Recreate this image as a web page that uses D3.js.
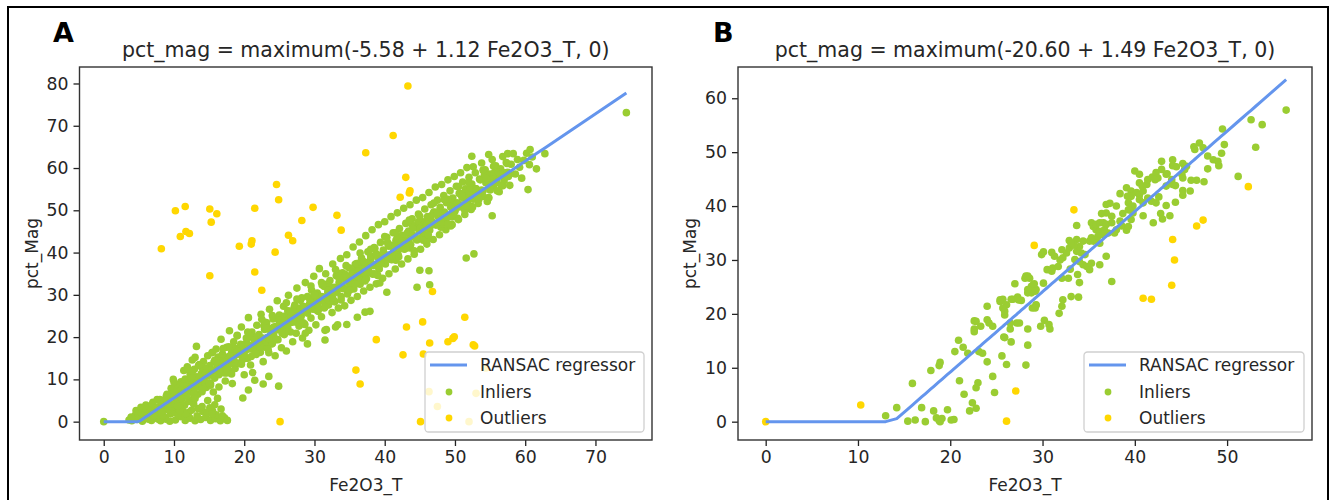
<!DOCTYPE html>
<html><head><meta charset="utf-8">
<script src="https://cdn.jsdelivr.net/npm/d3@7"></script>
<style>
body{margin:0;background:#fff}
svg{display:block}
text{font-family:"DejaVu Sans",sans-serif;fill:#262626}
</style>
</head><body>
<svg id="chart" width="1335" height="500"></svg>
<script>
// ---------------- data ----------------
const panelLabels = ["A", "B"];
const titles = [
  "pct_mag = maximum(-5.58 + 1.12 Fe2O3_T, 0)",
  "pct_mag = maximum(-20.60 + 1.49 Fe2O3_T, 0)"
];
const xLabel = "Fe2O3_T";
const yLabel = "pct_Mag";
const legendLabels = ["RANSAC regressor", "Inliers", "Outliers"];
const xTicksA = [0, 10, 20, 30, 40, 50, 60, 70];
const yTicksA = [0, 10, 20, 30, 40, 50, 60, 70, 80];
const xTicksB = [0, 10, 20, 30, 40, 50];
const yTicksB = [0, 10, 20, 30, 40, 50, 60];
const interceptA = -5.58, slopeA = 1.12;
const interceptB = -20.60, slopeB = 1.49;

const inliersA = [
[0,0],[3.6,0.4],[4.0,0.2],[4.3,0.9],[4.5,1.5],[4.8,0.5],[5.2,2.3],[5.5,0.1],[5.9,1.2],[6.0,3.9],[6.2,0.8],[6.5,2.8],[6.8,0.3],[7.0,4.6],[7.2,1.9],[7.5,1.0],[7.8,3.5],[8.1,0.2],[8.8,0.6],[9.4,0.1],[10.2,0.4],[10.9,1.2],[11.6,0.3],[12.3,0.8],[13.0,0.2],[13.8,0.5],[14.5,1.0],[15.2,0.3],[15.9,0.7],[16.6,0.2],[17.2,0.9],
[15.5,2.5],[15.8,4.0],[16.2,5.5],[15.6,7.0],[16.4,8.2],[15.1,3.3],[14.8,5.0],[16.7,3.0],[12.1,2.2],[13.4,3.1],[11.2,2.7],[9.7,2.4],[10.5,3.3],[14.1,2.4],[12.8,4.2],
[3.9,1.1],[4.6,2.6],[5.3,3.4],[5.6,0.9],[6.4,1.9],[6.7,3.6],[7.3,2.7],[7.7,0.6],[8.3,2.9],[8.7,1.0],[9.0,3.2],[9.5,1.8],[10.1,2.2],[10.6,1.5],[11.1,3.8],[11.7,1.9],[12.5,2.7],[13.3,1.4],[14.0,3.6],[14.7,2.2],[16.0,1.6],[16.9,1.4],[17.6,0.3],[15.4,1.8],
[5.1,0.9],[5.4,2.1],[5.8,1.6],[6.1,3.0],[6.3,0.6],[6.6,2.4],[6.9,4.1],[7.1,1.3],[7.4,3.3],[7.6,5.2],[7.9,2.2],[8.2,4.6],[8.4,1.4],[8.6,3.6],[8.9,6.0],[9.1,2.8],[9.3,5.1],[9.6,4.0],[9.8,7.3],[10.0,3.1],
[10.2,5.6],[10.3,8.2],[10.5,4.4],[10.7,6.8],[10.8,2.6],[11.0,9.4],[11.1,5.3],[11.3,7.5],[11.5,3.9],[11.6,10.1],[11.8,6.6],[12.0,8.6],[12.1,4.8],[12.3,11.3],[12.4,7.1],[12.6,9.5],[12.8,5.6],[12.9,12.4],[13.1,8.3],[13.2,10.6],[13.4,6.5],[13.6,13.5],[13.7,9.2],[13.9,11.4],[14.0,7.1],[14.2,14.2],[14.3,10.2],[14.5,12.5],[14.6,8.1],[14.8,15.6],[14.9,11.0],[15.1,13.3],[15.2,9.0],[15.4,16.3],[15.5,12.0],[15.7,14.1],[15.8,10.3],[16.0,17.2],[16.1,12.8],[16.3,15.3],
[11.9,13.0],[13.0,15.2],[13.2,17.8],[12.6,14.6],[9.9,10.0],[11.4,12.1],
[16.4,11.1],[16.6,13.9],[16.7,19.5],[16.9,16.0],[17.0,12.4],[17.2,14.8],[17.3,9.6],[17.5,17.6],[17.6,13.1],[17.8,15.4],[17.9,21.5],[18.1,11.9],[18.2,16.3],[18.4,14.0],[18.5,18.9],[18.7,12.6],[18.8,15.9],[19.0,20.4],[19.1,17.3],[19.3,13.8],[19.4,16.6],[19.6,22.4],[19.7,14.5],[19.9,18.2],[20.0,11.1],[20.2,16.9],[20.3,19.8],[20.5,15.0],[20.6,24.6],[20.8,18.0],[20.9,13.4],[21.1,21.2],[21.2,17.1],[21.4,19.4],[21.5,9.8],[21.7,15.9],[21.8,22.8],[22.0,18.6],[22.1,20.6],[22.3,16.4],
[19.8,5.6],[20.6,7.5],[18.3,9.0],[22.7,8.9],[23.5,10.7],[24.9,8.4],[21.2,11.6],
[22.4,25.4],[22.6,19.5],[22.7,14.2],[22.9,21.8],[23.0,17.6],[23.2,23.4],[23.3,19.9],[23.5,16.3],[23.6,26.6],[23.8,21.0],[23.9,18.4],[24.1,24.3],[24.2,20.3],[24.4,15.6],[24.5,22.5],[24.7,28.6],[24.8,19.4],[25.0,25.2],[25.1,21.8],[25.3,17.5],[25.4,23.6],[25.6,27.3],[25.7,20.6],[25.9,24.4],[26.0,16.7],[26.2,22.3],[26.3,29.9],[26.5,25.5],[26.6,21.2],[26.8,23.8],[26.9,18.9],[27.1,27.0],[27.2,24.6],[27.4,20.9],[27.5,31.6],[27.7,26.0],[27.8,22.6],[28.0,28.7],[28.1,24.9],[28.3,19.8],
[28.4,27.3],[28.6,23.1],[28.7,32.9],[28.9,25.8],[29.0,29.6],[29.2,21.6],[29.3,27.8],[29.5,24.5],[29.6,31.1],[29.8,26.6],[29.9,34.4],[30.1,28.3],[30.2,22.9],[30.4,30.4],[30.5,26.1],[30.7,36.2],[30.8,28.9],[31.0,24.8],[31.1,32.3],[31.3,29.5],[31.4,26.9],[31.6,35.0],[31.7,21.8],[31.9,30.7],[32.0,27.6],[32.2,33.4],[32.3,29.9],[32.5,25.8],[32.6,37.3],[32.8,31.8],[32.9,28.4],[33.1,34.5],[33.2,30.6],[33.4,26.9],[33.5,32.9],[33.7,38.6],[33.8,29.6],[34.0,35.2],[34.1,31.5],[34.3,27.4],
[31.5,19.3],[33.0,22.4],[34.6,23.0],[29.0,18.4],[36.1,24.7],[37.2,25.9],
[34.4,33.6],[34.6,39.5],[34.7,30.2],[34.9,36.4],[35.0,32.6],[35.2,28.7],[35.3,34.8],[35.5,41.3],[35.6,31.4],[35.8,37.2],[35.9,33.7],[36.1,29.6],[36.2,35.9],[36.4,42.5],[36.5,32.5],[36.7,38.7],[36.8,34.6],[37.0,30.9],[37.1,36.9],[37.3,44.0],[37.4,33.8],[37.6,40.2],[37.7,35.7],[37.9,31.8],[38.0,38.4],[38.2,45.4],[38.3,34.9],[38.5,41.2],[38.6,37.0],[38.8,32.6],[38.9,39.5],[39.1,46.6],[39.2,36.2],[39.4,42.4],[39.5,38.3],[39.7,33.9],[39.8,40.6],[40.0,47.3],[40.1,37.3],[40.3,43.6],
[40.4,39.4],[40.6,35.0],[40.7,41.8],[40.9,48.5],[41.0,38.4],[41.2,44.7],[41.3,40.6],[41.5,36.1],[41.6,42.9],[41.8,49.4],[41.9,39.6],[42.1,45.7],[42.2,41.7],[42.4,37.3],[42.5,44.0],[42.7,50.5],[42.8,40.8],[43.0,46.9],[43.1,42.8],[43.3,38.5],[43.4,45.1],[43.6,51.3],[43.7,41.9],[43.9,48.0],[44.0,44.0],[44.2,39.6],[44.3,46.2],[44.5,52.4],[44.6,43.0],[44.8,49.1],[44.9,45.1],[45.1,40.8],[45.2,47.4],[45.4,53.0],[45.5,44.1],[45.7,50.3],[45.8,46.2],[46.0,42.0],[46.1,48.5],[46.3,54.2],
[46.4,45.3],[46.6,51.3],[46.7,47.4],[46.9,43.1],[47.0,49.6],[47.2,55.5],[47.3,46.5],[47.5,52.4],[47.6,48.5],[47.8,44.2],[47.9,50.7],[48.1,56.1],[48.2,47.6],[48.4,53.5],[48.5,49.6],[48.7,45.4],[48.8,51.8],[49.0,57.2],[49.1,48.7],[49.3,54.6],[49.4,50.7],[49.6,46.6],[49.7,52.9],[49.9,58.0],[50.0,49.8],[50.2,55.7],[50.3,51.8],[50.5,47.8],[50.6,54.0],[50.8,58.9],[50.9,50.9],[51.1,56.7],[51.2,52.9],[51.4,49.0],[51.5,55.1],[51.7,60.1],[51.8,52.0],[52.0,57.8],[52.1,54.0],[52.3,50.2],
[52.4,56.2],[52.6,60.3],[52.7,53.1],[52.9,58.9],[53.0,55.1],[53.3,51.6],[53.5,57.4],[53.8,61.2],[54.0,54.6],[54.3,59.6],[54.5,56.5],[54.8,52.9],[55.0,58.6],[55.3,62.0],[55.5,55.8],[55.8,60.5],[56.0,57.7],[56.3,54.4],[56.5,59.8],[56.8,62.7],[57.0,57.0],[57.3,61.3],[57.5,59.0],[57.8,55.9],[58.0,60.9],[58.3,63.4],[58.6,58.6],[58.9,62.0],[59.2,60.2],[59.5,57.6],[59.8,61.8],[60.2,63.5],[60.6,60.8],[61.0,62.6],
[74.4,73.1],[62.8,63.4],[60.7,64.4],[61.6,59.8],[60.4,54.9],[54.8,63.2],[52.4,62.8],[55.3,48.7],[51.6,38.7],[52.7,39.7],[45.0,35.8],[46.3,35.7],[44.6,31.8],[46.4,32.4],[40.3,30.6],[39.3,32.8],[37.9,26.1],[33.3,22.9],[31.5,21.6],[28.7,20.9]
];
const coreA = [
[8.0,5.2],[8.4,1.6],[8.8,4.7],[9.2,3.8],[9.6,7.9],[10.0,4.0],[10.4,7.2],[10.8,3.7],[11.2,7.0],[11.6,9.6],[12.0,7.4],[12.4,10.1],[12.8,6.6],[13.2,9.6],[13.6,8.8],[14.0,12.8],[14.4,9.0],[14.8,12.1],[15.2,8.6],[15.6,11.9],
[16.0,14.5],[16.4,12.3],[16.8,15.0],[17.2,11.5],[17.6,14.5],[18.0,13.7],[18.4,17.7],[18.8,13.9],[19.2,17.0],[19.6,13.6],[20.0,16.8],[20.4,19.5],[20.8,17.2],[21.2,20.0],[21.6,16.4],[22.0,19.5],[22.4,18.6],[22.8,22.7],[23.2,18.8],[23.6,22.0],
[24.0,18.5],[24.4,21.8],[24.8,24.4],[25.2,22.1],[25.6,24.9],[26.0,21.3],[26.4,24.4],[26.8,23.5],[27.2,27.6],[27.6,23.7],[28.0,26.9],[28.4,23.4],[28.8,26.7],[29.2,29.3],[29.6,27.1],[30.0,29.8],[30.4,26.3],[30.8,29.3],[31.2,28.5],[31.6,32.5],
[32.0,28.7],[32.4,31.8],[32.8,28.4],[33.2,31.6],[33.6,34.3],[34.0,32.0],[34.4,34.8],[34.8,31.2],[35.2,34.2],[35.6,33.4],[36.0,37.4],[36.4,33.6],[36.8,36.7],[37.2,33.3],[37.6,36.5],[38.0,39.2],[38.4,36.9],[38.8,39.7],[39.2,36.1],[39.6,39.2],
[40.0,38.3],[40.4,42.4],[40.8,38.5],[41.2,41.7],[41.6,38.2],[42.0,41.5],[42.4,44.1],[42.8,41.9],[43.2,44.6],[43.6,41.1],[44.0,44.1],[44.4,43.3],[44.8,47.3],[45.2,43.4],[45.6,46.6],[46.0,43.1],[46.4,46.4],[46.8,49.0],[47.2,46.8],[47.6,49.5],
[48.0,46.0],[48.4,49.0],[48.8,48.2],[49.2,52.2],[49.6,48.4],[50.0,51.5],[50.4,48.1],[50.8,51.3],[51.2,54.0],[51.6,51.7],[52.0,54.5],[52.4,50.9],[52.8,54.0],[53.2,53.1],[53.6,57.2],[54.0,53.3],[54.4,56.5],[54.8,53.0],[55.2,56.2],[55.6,58.9],
[56.0,56.6],[56.4,59.4],[56.8,55.8],[57.2,58.9],[57.6,58.0]
];
const coreA2 = [
[8.2,2.4],[8.6,5.0],[9.0,4.2],[9.4,6.5],[9.8,3.4],[10.2,6.3],[10.6,8.7],[11.0,6.0],[11.4,8.5],[11.8,6.0],[12.2,8.2],[12.6,11.8],[13.0,5.5],[13.4,8.2],[13.8,10.8],[14.2,10.0],[14.6,12.4],[15.0,9.2],[15.4,12.2],[15.8,14.5],
[16.2,11.9],[16.6,14.3],[17.0,11.9],[17.4,14.0],[17.8,17.7],[18.2,11.3],[18.6,14.1],[19.0,16.6],[19.4,15.9],[19.8,18.2],[20.2,15.0],[20.6,18.0],[21.0,20.3],[21.4,17.7],[21.8,20.1],[22.2,17.7],[22.6,19.8],[23.0,23.5],[23.4,17.1],[23.8,19.9],
[24.2,22.4],[24.6,21.7],[25.0,24.0],[25.4,20.9],[25.8,23.8],[26.2,26.2],[26.6,23.5],[27.0,26.0],[27.4,23.5],[27.8,25.7],[28.2,29.3],[28.6,23.0],[29.0,25.7],[29.4,28.3],[29.8,27.5],[30.2,29.8],[30.6,26.7],[31.0,29.6],[31.4,32.0],[31.8,29.3],
[32.2,31.8],[32.6,29.3],[33.0,31.5],[33.4,35.1],[33.8,28.8],[34.2,31.5],[34.6,34.1],[35.0,33.3],[35.4,35.7],[35.8,32.5],[36.2,35.5],[36.6,37.8],[37.0,35.2],[37.4,37.6],[37.8,35.2],[38.2,37.3],[38.6,41.0],[39.0,34.6],[39.4,37.4],[39.8,39.9],
[40.2,39.1],[40.6,41.5],[41.0,38.3],[41.4,41.3],[41.8,43.6],[42.2,41.0],[42.6,43.4],[43.0,41.0],[43.4,43.1],[43.8,46.8],[44.2,40.4],[44.6,43.2],[45.0,45.7],[45.4,45.0],[45.8,47.3],[46.2,44.2],[46.6,47.1],[47.0,49.5],[47.4,46.8],[47.8,49.3],
[48.2,46.8],[48.6,49.0],[49.0,52.6],[49.4,46.3],[49.8,49.0],[50.2,51.5],[50.6,50.8],[51.0,53.1],[51.4,50.0],[51.8,52.9],[52.2,55.3],[52.6,52.6],[53.0,55.1],[53.4,52.6],[53.8,54.8],[54.2,58.4],[54.6,52.1],[55.0,54.8],[55.4,57.4],[55.8,56.6],
[56.2,59.0],[56.6,55.8],[57.0,58.8],[57.4,61.1],[57.8,58.5]
];
const coreA3 = [
[9.0,6.5],[9.5,4.1],[10.0,9.4],[10.5,3.7],[11.0,7.5],[11.5,7.1],[12.0,12.5],[12.5,10.4],[13.0,8.0],[13.5,13.3],[14.0,7.6],[14.5,11.5],[15.0,11.0],[15.5,16.4],[16.0,14.3],[16.5,11.9],[17.0,17.3],[17.5,11.5],[18.0,15.4],[18.5,14.9],
[19.0,20.3],[19.5,18.3],[20.0,15.8],[20.5,21.2],[21.0,15.4],[21.5,19.3],[22.0,18.9],[22.5,24.2],[23.0,22.2],[23.5,19.7],[24.0,25.1],[24.5,19.4],[25.0,23.2],[25.5,22.8],[26.0,28.1],[26.5,26.1],[27.0,23.7],[27.5,29.0],[28.0,23.3],[28.5,27.1],
[29.0,26.7],[29.5,32.1],[30.0,30.0],[30.5,27.6],[31.0,32.9],[31.5,27.2],[32.0,31.1],[32.5,30.6],[33.0,36.0],[33.5,33.9],[34.0,31.5],[34.5,36.9],[35.0,31.1],[35.5,35.0],[36.0,34.5],[36.5,39.9],[37.0,37.9],[37.5,35.4],[38.0,40.8],[38.5,35.0],
[39.0,38.9],[39.5,38.5],[40.0,43.8],[40.5,41.8],[41.0,39.3],[41.5,44.7],[42.0,39.0],[42.5,42.8],[43.0,42.4],[43.5,47.7],[44.0,45.7],[44.5,43.3],[45.0,48.6],[45.5,42.9],[46.0,46.7],[46.5,46.3],[47.0,51.7],[47.5,49.6],[48.0,47.2],[48.5,52.5],
[49.0,46.8],[49.5,50.7],[50.0,50.2],[50.5,55.6],[51.0,53.5],[51.5,51.1],[52.0,56.5],[52.5,50.7],[53.0,54.6],[53.5,54.1],[54.0,59.5],[54.5,57.5],[55.0,55.0],[55.5,60.4],[56.0,54.6],[56.5,58.5],[57.0,58.1],[57.5,63.4]
];
const outliersA = [
[8.2,40.9],[10.2,49.9],[11.6,50.9],[10.9,43.8],[11.7,45.0],[12.2,44.5],[15.1,50.3],[16.1,49.2],[15.3,47.2],[15.1,34.5],[19.3,41.5],[21.0,42.0],[21.1,42.8],[21.5,50.5],[24.6,56.1],[24.9,52.5],[24.4,40.1],[21.5,35.4],[22.5,31.1],[26.3,44.1],[26.9,42.8],[28.2,47.6],[29.8,50.7],[33.2,48.8],[33.8,45.3],[37.3,63.6],[38.8,19.4],[35.9,12.2],[36.5,8.9],[25.1,0.0],
[43.3,79.4],[41.2,67.7],[43.0,57.8],[42.2,53.1],[43.5,54.1],[43.6,54.6],[46.8,30.8],[51.4,24.7],[45.4,23.6],[43.1,22.4],[46.4,18.6],[49.0,18.9],[49.9,20.1],[49.7,19.7],[52.6,18.2],[52.8,17.9],[42.6,15.8],[45.5,16.0],[45.1,0.0],[46.3,7.1],[47.5,3.6],[53.0,6.7],[52.0,0.0],[54.4,12.7]
];
const inliersB = [
[13.0,1.1],[14.2,2.6],[15.9,7.1],[15.4,0.1],[16.2,0.3],[17.3,0.0],[16.9,2.6],[18.2,2.0],[18.5,0.7],[18.8,0.2],[19.1,0.6],[18.9,0.0],[19.7,2.2],[20.1,0.3],[20.4,0.4],[17.9,9.5],[18.8,10.4],[18.9,11.0],[21.0,7.6],[21.5,5.1],[22.1,2.0],[22.4,3.5],[22.8,2.5],[23.0,7.2],[22.8,6.3],[20.9,15.1],[20.5,13.0],[21.4,13.8],[21.9,12.7],[23.1,13.0],[23.5,12.7],[24.0,11.1],[24.6,8.4],[24.8,5.4],[25.6,12.2],[26.1,10.6],[28.2,10.5],[28.4,14.2],[26.6,14.8],[25.9,15.6],[26.5,17.2],[22.6,18.7],[22.8,18.6],[22.6,17.2],[22.6,16.7],[23.3,17.7],[24.0,18.9],[24.2,18.3],[24.6,17.7],[24.0,21.4],[25.4,22.3],[25.7,22.7],[26.1,21.7],[25.7,21.1],[25.9,19.8],[26.8,22.7],[27.3,23.1],[27.7,22.5],[27.0,25.6],[27.2,18.3],[27.5,18.3],[28.4,17.2],[28.9,21.1],[29.3,21.6],[28.2,27.0],[28.6,26.6],[28.8,25.1],[29.1,25.6],[28.6,24.4],[28.8,23.9],[28.4,23.9],[29.3,24.5],[30.1,25.7],[29.8,17.7],[30.2,18.8],[30.7,18.0],[29.9,31.0],[30.1,31.5],[30.5,28.2],
[25.8,15.7],[26.5,18.3],[30.8,17.2],[25.4,22.6],[25.9,20.5],[26.6,22.7],[27.4,22.6],[28.1,26.6],[28.4,27.0],[29.0,25.4],[28.4,24.5],[29.2,24.2],[29.3,21.7],[29.2,21.1],
[31.0,31.4],[31.3,30.7],[31.1,28.5],[31.0,27.9],[31.7,28.8],[32.1,31.9],[31.9,30.0],[32.2,30.4],[32.6,31.3],[32.9,32.2],[33.3,32.8],[32.1,26.6],[32.2,22.6],[32.1,21.4],[31.8,20.1],[32.8,26.6],[33.1,23.2],[33.9,23.1],
[33.0,28.3],[33.8,27.3],[34.0,25.8],[33.5,30.1],[34.0,29.7],[34.4,29.1],[34.8,28.8],[35.1,28.2],[35.3,29.4],[36.2,29.1],[36.9,30.7],[37.5,26.0],[34.6,31.0],[34.2,31.3],[33.7,31.6],
[35.5,33.5],[36.2,33.1],[35.8,33.8],[35.1,33.5],[35.3,34.1],[33.7,33.8],[34.4,33.5],[34.0,32.5],[33.4,32.8],[32.9,33.6],[33.1,33.1],[33.7,36.4],
[35.8,35.6],[36.2,35.3],[36.7,35.6],[36.6,34.7],[36.0,34.4],[37.1,35.0],[35.3,36.9],[35.5,36.2],[35.8,36.6],[36.2,36.9],[36.6,36.9],[36.9,36.6],
[38.0,35.6],[38.6,36.3],[39.1,35.5],[37.8,35.0],[38.4,37.2],[39.3,36.2],[36.9,40.3],[37.3,40.5],[38.0,40.0],[36.9,38.7],[36.4,38.6],[37.5,38.1],[37.5,36.9],[38.4,42.3],[38.7,38.6],
[39.1,43.4],[39.6,42.8],[39.2,41.8],[39.6,41.8],[40.2,42.5],[40.5,42.1],[40.9,42.8],[39.3,40.6],[39.8,40.0],[40.5,41.2],[40.9,40.6],[41.4,41.5],[41.8,40.9],[42.3,40.6],[42.6,41.7],
[39.6,39.7],[39.8,38.7],[39.3,39.3],[39.6,37.5],[40.9,38.2],[40.0,46.5],[40.5,45.9],[40.5,44.3],[40.8,43.7],[41.3,44.0],[41.4,44.9],[41.9,45.4],
[42.9,48.3],[43.4,45.9],[43.5,46.0],[42.9,46.8],[42.3,46.2],[42.5,45.2],[42.2,44.9],[43.4,43.7],[44.1,44.0],[44.0,44.9],[44.4,43.8],[44.4,40.7],[43.4,40.1],[43.8,38.2],[42.8,38.6],[43.0,37.6],[42.0,36.9],
[44.1,48.6],[44.5,47.3],[44.1,47.5],[45.2,47.9],[45.4,46.8],[45.6,47.4],[45.1,45.9],[45.2,45.2],[46.0,42.8],[45.2,42.0],[45.2,42.9],[47.5,44.5],[46.7,44.8],[46.1,44.8],
[47.0,51.7],[47.4,50.8],[46.4,51.0],[46.5,50.5],[47.9,49.3],[48.5,48.6],[49.0,48.3],[49.1,47.5],[47.9,46.9],[49.5,54.3],[49.7,51.4],[49.4,49.8],[51.2,45.5],[53.1,50.9],[52.6,56.0],[53.8,55.1],[56.4,57.8]
];
const outliersB = [
[0,0],[10.3,3.1],[27.1,5.7],[26.1,0.1],[29.1,32.7],[33.4,39.3],[52.3,43.6],[46.7,36.3],[47.4,37.4],[44.1,33.8],[44.3,30.0],[44.0,25.3],[40.9,22.9],[41.8,22.7]
];

// ---------------- style ----------------
const COL_IN = "#9acd32", COL_OUT = "#ffd700", COL_LINE = "#6495ed";
const R = 3.8;
const svg = d3.select("#chart");

svg.append("rect").attr("x", 8).attr("y", 7).attr("width", 1320).attr("height", 520)
  .attr("fill", "none").attr("stroke", "#000").attr("stroke-width", 2);

const panels = [
  { label: panelLabels[0], title: titles[0], box: {l: 79.5, r: 652, t: 67, b: 440},
    xDom: [-3.45, 78.05], yDom: [-4.34, 83.9], xTicks: xTicksA, yTicks: yTicksA,
    inliers: inliersA.concat(coreA, coreA2, coreA3), outliers: outliersA, a: interceptA, s: slopeA,
    labelX: 53, legend: {x: 425, y: 352, w: 219, h: 80} },
  { label: panelLabels[1], title: titles[1], box: {l: 738, r: 1312, t: 67, b: 440},
    xDom: [-3.0, 59.2], yDom: [-3.4, 65.8], xTicks: xTicksB, yTicks: yTicksB,
    inliers: inliersB, outliers: outliersB, a: interceptB, s: slopeB,
    labelX: 713, legend: {x: 1084, y: 352, w: 220, h: 80} }
];

panels.forEach(p => {
  const x = d3.scaleLinear().domain(p.xDom).range([p.box.l, p.box.r]);
  const y = d3.scaleLinear().domain(p.yDom).range([p.box.b, p.box.t]);
  const g = svg.append("g");

  g.append("text").attr("x", p.labelX).attr("y", 42).text(p.label)
    .style("font-size", "27px").style("font-weight", "bold").style("fill", "#000");
  g.append("text").attr("x", (p.box.l + p.box.r) / 2).attr("y", 57)
    .attr("text-anchor", "middle").style("font-size", "20.5px").text(p.title);

  const clipId = "clip" + p.label;
  svg.append("clipPath").attr("id", clipId).append("rect")
    .attr("x", p.box.l).attr("y", p.box.t).attr("width", p.box.r - p.box.l).attr("height", p.box.b - p.box.t);
  const plot = g.append("g").attr("clip-path", `url(#${clipId})`);
  plot.selectAll("circle.in").data(p.inliers).join("circle").attr("class", "in")
    .attr("cx", d => x(d[0])).attr("cy", d => y(d[1])).attr("r", R).attr("fill", COL_IN);
  plot.selectAll("circle.out").data(p.outliers).join("circle").attr("class", "out")
    .attr("cx", d => x(d[0])).attr("cy", d => y(d[1])).attr("r", R).attr("fill", COL_OUT);

  const xs = Array.from(new Set(p.inliers.concat(p.outliers).map(d => d[0]))).sort((a, b) => a - b);
  const linePts = xs.map(v => [v, Math.max(p.a + p.s * v, 0)]);
  plot.append("path").datum(linePts)
    .attr("d", d3.line().x(d => x(d[0])).y(d => y(d[1])))
    .attr("fill", "none").attr("stroke", COL_LINE).attr("stroke-width", 3)
    .attr("stroke-linejoin", "round").attr("stroke-linecap", "butt");

  const xAxis = d3.axisBottom(x).tickValues(p.xTicks).tickSize(6).tickPadding(5).tickFormat(d3.format("d"));
  const yAxis = d3.axisLeft(y).tickValues(p.yTicks).tickSize(6).tickPadding(5).tickFormat(d3.format("d"));
  const gx = g.append("g").attr("transform", `translate(0,${p.box.b})`).call(xAxis);
  const gy = g.append("g").attr("transform", `translate(${p.box.l},0)`).call(yAxis);
  [gx, gy].forEach(a => {
    a.select(".domain").remove();
    a.selectAll("line").attr("stroke", "#222").attr("stroke-width", 1.3);
    a.selectAll("text").style("font-size", "17.3px").style("font-family", '"DejaVu Sans",sans-serif').attr("fill", "#262626");
  });
  g.append("rect").attr("x", p.box.l).attr("y", p.box.t)
    .attr("width", p.box.r - p.box.l).attr("height", p.box.b - p.box.t)
    .attr("fill", "none").attr("stroke", "#333").attr("stroke-width", 1.4);

  g.append("text").attr("x", (p.box.l + p.box.r) / 2).attr("y", 491)
    .attr("text-anchor", "middle").style("font-size", "17px").text(xLabel);
  g.append("text").attr("transform", `translate(${p.box.l - 42},${(p.box.t + p.box.b) / 2}) rotate(-90)`)
    .attr("text-anchor", "middle").style("font-size", "17px").text(yLabel);

  const L = p.legend;
  const lg = g.append("g");
  lg.append("rect").attr("x", L.x).attr("y", L.y).attr("width", L.w).attr("height", L.h)
    .attr("rx", 3.5).attr("fill", "#fff").attr("fill-opacity", 0.8)
    .attr("stroke", "#d0d0d0").attr("stroke-width", 1.3);
  const rows = [L.y + 13, L.y + 40, L.y + 66];
  lg.append("line").attr("x1", L.x + 5).attr("x2", L.x + 42).attr("y1", rows[0]).attr("y2", rows[0])
    .attr("stroke", COL_LINE).attr("stroke-width", 3);
  lg.append("circle").attr("cx", L.x + 24).attr("cy", rows[1]).attr("r", 3.4).attr("fill", COL_IN);
  lg.append("circle").attr("cx", L.x + 24).attr("cy", rows[2]).attr("r", 3.4).attr("fill", COL_OUT);
  legendLabels.forEach((t, i) => {
    lg.append("text").attr("x", L.x + 55).attr("y", rows[i]).attr("dy", "0.36em")
      .style("font-size", "17px").text(t);
  });
});
</script>
</body></html>
